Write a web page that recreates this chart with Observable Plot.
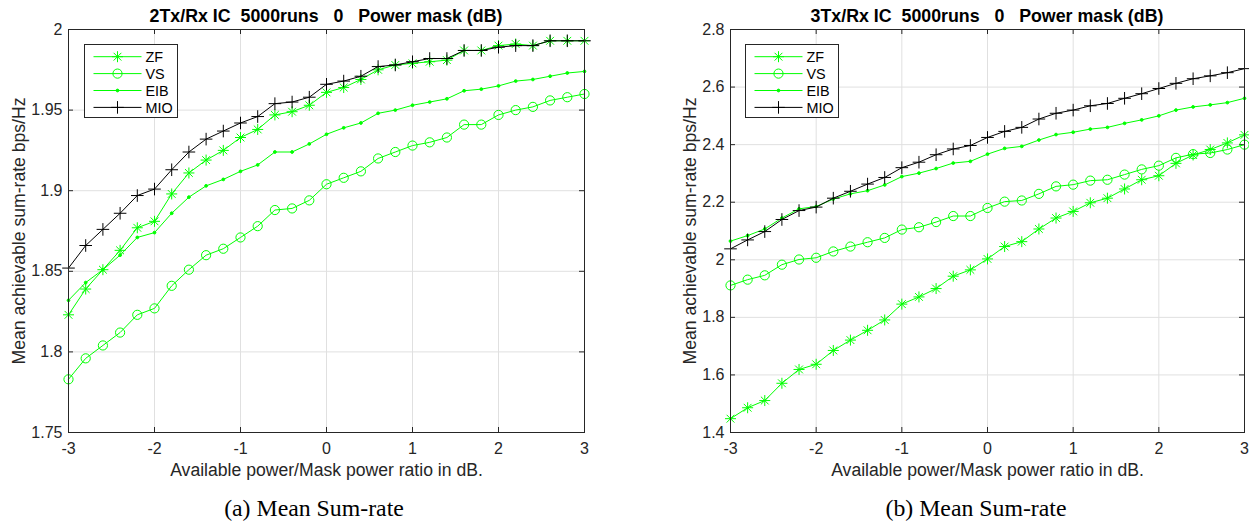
<!DOCTYPE html>
<html>
<head>
<meta charset="utf-8">
<script src="https://cdn.jsdelivr.net/npm/d3@7"></script>
<script src="https://cdn.jsdelivr.net/npm/@observablehq/plot@0.6"></script>
<style>
  html, body { margin: 0; padding: 0; background: #fff; }
  #root { position: relative; width: 1249px; height: 527px; overflow: hidden; background: #fff; font-family: "Liberation Sans", Arial, sans-serif; }
  .panel { position: absolute; top: 0; }
  .title { position: absolute; top: 6px; font: bold 17.8px/20px "Liberation Sans", Arial, sans-serif; color: #000; white-space: pre; transform: translateX(-50%); }
  .caption { position: absolute; top: 494px; font: 23.8px/28px "Liberation Serif", "Times New Roman", serif; color: #000; white-space: pre; transform: translateX(-50%); }
  .legend { position: absolute; }
</style>
</head>
<body>
<div id="root"></div>
<script>
// ---------- data ----------
const X = [-3, -2.8, -2.6, -2.4, -2.2, -2, -1.8, -1.6, -1.4, -1.2, -1, -0.8, -0.6, -0.4, -0.2, 0,
           0.2, 0.4, 0.6, 0.8, 1, 1.2, 1.4, 1.6, 1.8, 2, 2.2, 2.4, 2.6, 2.8, 3];
const X_TICKS = [-3, -2, -1, 0, 1, 2, 3];
const SERIES = ["ZF", "VS", "EIB", "MIO"];

// 2Tx/Rx panel
const ZF_2 = [1.823, 1.839, 1.851, 1.863, 1.877, 1.881, 1.898, 1.911, 1.919, 1.925, 1.933, 1.938, 1.947, 1.949, 1.953, 1.961,
              1.964, 1.969, 1.975, 1.978, 1.979, 1.980, 1.981, 1.987, 1.987, 1.990, 1.991, 1.990, 1.993, 1.993, 1.993];
const VS_2 = [1.783, 1.796, 1.804, 1.812, 1.823, 1.827, 1.841, 1.851, 1.860, 1.864, 1.871, 1.878, 1.888, 1.889, 1.894, 1.904,
              1.908, 1.912, 1.920, 1.924, 1.928, 1.930, 1.933, 1.941, 1.941, 1.947, 1.950, 1.952, 1.956, 1.958, 1.960];
const EIB_2 = [1.832, 1.843, 1.851, 1.860, 1.871, 1.874, 1.886, 1.896, 1.903, 1.907, 1.912, 1.916, 1.924, 1.924, 1.929, 1.935,
               1.939, 1.942, 1.948, 1.950, 1.953, 1.955, 1.957, 1.962, 1.963, 1.965, 1.968, 1.969, 1.971, 1.973, 1.974];
const MIO_2 = [1.852, 1.866, 1.876, 1.886, 1.897, 1.901, 1.913, 1.924, 1.932, 1.937, 1.942, 1.946, 1.954, 1.955, 1.958, 1.966,
               1.968, 1.971, 1.977, 1.978, 1.980, 1.982, 1.982, 1.987, 1.987, 1.989, 1.990, 1.990, 1.993, 1.993, 1.993];
const Y_TICKS_2 = [1.75, 1.8, 1.85, 1.9, 1.95, 2];

// 3Tx/Rx panel
const ZF_3 = [1.448, 1.486, 1.511, 1.571, 1.619, 1.637, 1.685, 1.721, 1.755, 1.791, 1.846, 1.871, 1.900, 1.943, 1.965, 2.003,
              2.046, 2.063, 2.107, 2.145, 2.168, 2.198, 2.214, 2.246, 2.278, 2.292, 2.335, 2.364, 2.383, 2.406, 2.434];
const VS_3 = [1.911, 1.931, 1.946, 1.983, 2.001, 2.007, 2.029, 2.046, 2.061, 2.076, 2.105, 2.113, 2.131, 2.152, 2.152, 2.180,
              2.202, 2.206, 2.229, 2.255, 2.261, 2.275, 2.278, 2.296, 2.314, 2.327, 2.354, 2.367, 2.371, 2.383, 2.400];
const EIB_3 = [2.065, 2.084, 2.107, 2.145, 2.177, 2.185, 2.211, 2.229, 2.240, 2.260, 2.289, 2.301, 2.317, 2.336, 2.342, 2.367,
               2.387, 2.394, 2.416, 2.435, 2.443, 2.454, 2.460, 2.474, 2.486, 2.500, 2.520, 2.531, 2.538, 2.546, 2.561];
const MIO_3 = [2.038, 2.069, 2.098, 2.140, 2.171, 2.183, 2.214, 2.238, 2.263, 2.286, 2.320, 2.339, 2.365, 2.385, 2.397, 2.425,
               2.446, 2.460, 2.489, 2.509, 2.520, 2.535, 2.543, 2.561, 2.577, 2.595, 2.613, 2.629, 2.639, 2.650, 2.664];
const Y_TICKS_3 = [1.4, 1.6, 1.8, 2, 2.2, 2.4, 2.6, 2.8];

const TITLE_2 = "2Tx/Rx IC  5000runs   0   Power mask (dB)";
const TITLE_3 = "3Tx/Rx IC  5000runs   0   Power mask (dB)";
const CAPTION_2 = "(a) Mean Sum-rate";
const CAPTION_3 = "(b) Mean Sum-rate";
const X_LABEL = "Available power/Mask power ratio in dB.";
const Y_LABEL = "Mean achievable sum-rate bps/Hz";

// ---------- styles ----------
const GREEN = "#00ff00";
const COLORS = {ZF: GREEN, VS: GREEN, EIB: GREEN, MIO: "#000000"};
const AXIS = "#262626";
const GRID = "#e0e0e0";
const FONT = '"Liberation Sans", Arial, sans-serif';

const asteriskSym = {draw(ctx, size) {
  const r = Math.sqrt(size / Math.PI), d = r * Math.SQRT1_2;
  ctx.moveTo(-r, 0); ctx.lineTo(r, 0);
  ctx.moveTo(0, -r); ctx.lineTo(0, r);
  ctx.moveTo(-d, -d); ctx.lineTo(d, d);
  ctx.moveTo(-d, d); ctx.lineTo(d, -d);
}};
const plusSym = {draw(ctx, size) {
  const r = Math.sqrt(size / Math.PI);
  ctx.moveTo(-r, 0); ctx.lineTo(r, 0);
  ctx.moveTo(0, -r); ctx.lineTo(0, r);
}};
const MARKERS = {
  ZF:  {symbol: asteriskSym, r: 5.5, fill: "none"},
  VS:  {symbol: "circle", r: 4.6, fill: "none"},
  EIB: {symbol: "circle", r: 1.4, fill: GREEN},
  MIO: {symbol: plusSym, r: 6.3, fill: "none"}
};

const H = 480, MT = 29, MB = 48;

function makePanel(cfg) {
  const rows = [];
  SERIES.forEach((s, i) => cfg.values[i].forEach((v, j) => rows.push({series: s, x: X[j], y: v})));
  const plotH = H - MT - MB;
  const plotW = cfg.width - cfg.ml - cfg.mr;
  const marks = [
    Plot.gridX(X_TICKS, {stroke: GRID, strokeOpacity: 1}),
    Plot.gridY(cfg.yTicks, {stroke: GRID, strokeOpacity: 1}),
    Plot.axisX(X_TICKS, {tickSize: 0, tickPadding: 10, tickFormat: d => String(d), fill: AXIS, fontSize: 16, label: null}),
    Plot.axisY(cfg.yTicks, {tickSize: 0, tickPadding: 6, tickFormat: d => String(d), fill: AXIS, fontSize: 16, label: null}),
    Plot.text([X_LABEL], {text: d => d, frameAnchor: "bottom", textAnchor: "middle", lineAnchor: "middle",
      dy: 38, fontSize: 17.6, fill: AXIS}),
    Plot.text([Y_LABEL], {text: d => d, frameAnchor: "left", textAnchor: "middle", lineAnchor: "middle",
      rotate: -90, dx: -cfg.labelOffset, fontSize: 17.6, fill: AXIS}),
    Plot.tickX(X_TICKS, {x: d => d, insetTop: plotH - 5, stroke: AXIS}),
    Plot.tickX(X_TICKS, {x: d => d, insetBottom: plotH - 5, stroke: AXIS}),
    Plot.tickY(cfg.yTicks, {y: d => d, insetRight: plotW - 5, stroke: AXIS}),
    Plot.tickY(cfg.yTicks, {y: d => d, insetLeft: plotW - 5, stroke: AXIS})
  ];
  SERIES.forEach(s => {
    const d = rows.filter(r => r.series === s);
    const m = MARKERS[s];
    marks.push(Plot.line(d, {x: "x", y: "y", stroke: COLORS[s], strokeWidth: 1}));
    marks.push(Plot.dot(d, {x: "x", y: "y", symbol: () => m.symbol, r: m.r, stroke: COLORS[s], fill: m.fill, strokeWidth: 1}));
  });
  marks.push(Plot.frame({stroke: AXIS}));
  return Plot.plot({
    width: cfg.width, height: H,
    marginTop: MT, marginBottom: MB, marginLeft: cfg.ml, marginRight: cfg.mr,
    style: {fontFamily: FONT, fontSize: "16px", color: AXIS, background: "white", overflow: "visible"},
    x: {domain: [-3, 3]},
    y: {domain: cfg.yDomain},
    symbol: {type: "identity"},
    marks
  });
}

function makeLegend(left) {
  const W = 94, HH = 74;
  const svg = d3.create("svg").attr("width", W).attr("height", HH).attr("class", "legend")
    .style("left", left + "px").style("top", "44px");
  svg.append("rect").attr("x", 0.5).attr("y", 0.5).attr("width", W - 1).attr("height", HH - 1)
    .attr("fill", "white").attr("stroke", AXIS);
  SERIES.forEach((s, i) => {
    const cy = 12.7 + i * 16.9;
    const m = MARKERS[s];
    svg.append("line").attr("x1", 9.5).attr("x2", 57.5).attr("y1", cy).attr("y2", cy)
      .attr("stroke", COLORS[s]).attr("stroke-width", 1);
    const sym = m.symbol === "circle" ? d3.symbolCircle : m.symbol;
    svg.append("path").attr("d", d3.symbol(sym, Math.PI * m.r * m.r)())
      .attr("transform", `translate(33.5,${cy})`)
      .attr("stroke", COLORS[s]).attr("fill", m.fill).attr("stroke-width", 1);
    svg.append("text").attr("x", 61.5).attr("y", cy).attr("dy", "0.36em")
      .attr("font-family", FONT).attr("font-size", 14.4).attr("fill", "#000").text(s);
  });
  return svg.node();
}

const root = document.getElementById("root");
function place(node, left) { node.classList.add("panel"); node.style.left = left + "px"; root.appendChild(node); }

const p2 = makePanel({values: [ZF_2, VS_2, EIB_2, MIO_2], yTicks: Y_TICKS_2, yDomain: [1.75, 2],
  width: 624, ml: 68, mr: 40, labelOffset: 49.6});
place(p2, 0);
const p3 = makePanel({values: [ZF_3, VS_3, EIB_3, MIO_3], yTicks: Y_TICKS_3, yDomain: [1.4, 2.8],
  width: 609, ml: 90, mr: 5, labelOffset: 40.5});
place(p3, 640);

function addText(cls, text, cx) {
  const el = document.createElement("div");
  el.className = cls; el.textContent = text; el.style.left = cx + "px";
  root.appendChild(el);
}
addText("title", TITLE_2, 326);
addText("title", TITLE_3, 987);
addText("caption", CAPTION_2, 314);
addText("caption", CAPTION_3, 976);
root.appendChild(makeLegend(84));
root.appendChild(makeLegend(745));
</script>
</body>
</html>
